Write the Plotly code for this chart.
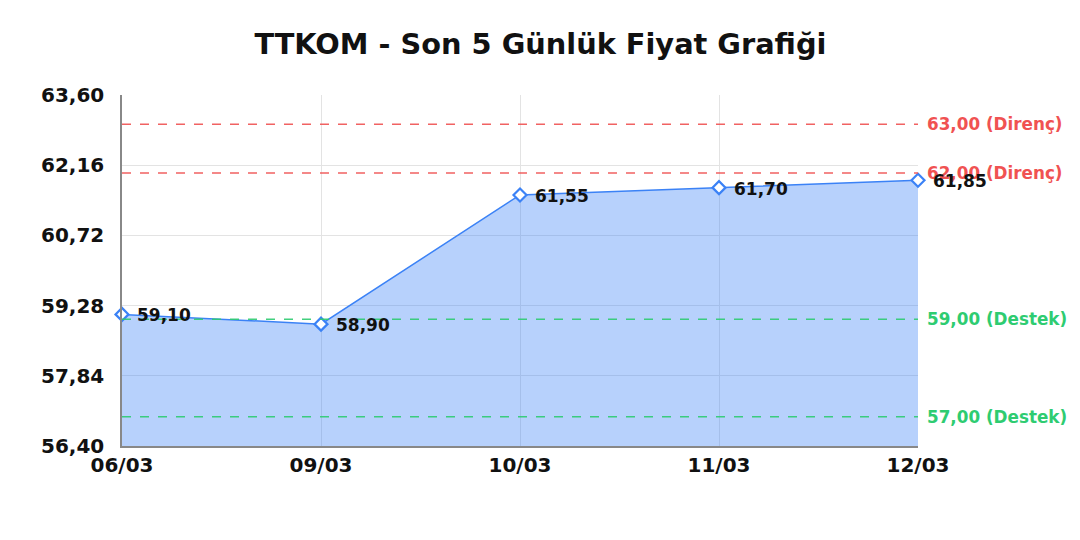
import plotly.graph_objects as go

dates = ["06/03", "09/03", "10/03", "11/03", "12/03"]
prices = [59.10, 58.90, 61.55, 61.70, 61.85]
resistance = [63.00, 62.00]
support = [59.00, 57.00]
y_min, y_max, y_step = 56.40, 63.60, 1.44

FONT = "DejaVu Sans"
RED = "#f05252"
GREEN = "#2ecc71"
BLUE = "#3b82f6"


def tr(v: float) -> str:
    return f"{v:.2f}".replace(".", ",")


fig = go.Figure()

fig.add_trace(go.Scatter(
    x=dates, y=prices,
    mode="lines+markers",
    fill="tozeroy",
    fillcolor="rgba(59,130,246,0.37)",
    line=dict(color=BLUE, width=1.5),
    marker=dict(symbol="diamond", size=10, color="white", line=dict(width=2.2, color=BLUE)),
    cliponaxis=False,
    showlegend=False,
))

# support / resistance lines
for levels, color, name in ((resistance, RED, "Direnç"), (support, GREEN, "Destek")):
    for v in levels:
        fig.add_hline(y=v, line=dict(color=color, width=1.3, dash="dash"), opacity=0.9)
        fig.add_annotation(
            x=1, xref="paper", y=v, yref="y",
            text=f"{tr(v)} ({name})",
            showarrow=False, xanchor="left", xshift=7,
            font=dict(family=FONT, size=16.8, color=color, weight="bold"),
        )

# value labels next to the points (drawn last so they sit on top)
for d, p in zip(dates, prices):
    fig.add_annotation(
        x=d, y=p, text=tr(p),
        showarrow=False, xanchor="left", xshift=13, yshift=-1,
        font=dict(family=FONT, size=17, color="#111111", weight="bold"),
    )

fig.update_layout(
    width=1080, height=540,
    margin=dict(l=114, r=170, t=87, b=102),
    paper_bgcolor="white",
    plot_bgcolor="white",
    separators=",.",
    title=dict(
        text="TTKOM - Son 5 Günlük Fiyat Grafiği",
        x=0.493, xanchor="center", y=0.933, yanchor="middle",
        font=dict(family=FONT, size=28.8, color="#111111", weight="bold"),
    ),
    xaxis=dict(
        type="category",
        range=[0, len(dates) - 1],
        showgrid=True, gridcolor="#e3e3e3",
        showline=True, linecolor="#888888", linewidth=1.5,
        ticks="", ticklen=0,
        tickfont=dict(family=FONT, size=20, color="#111111", weight="bold"),
    ),
    yaxis=dict(
        range=[y_min, y_max],
        tick0=y_min, dtick=y_step,
        tickformat=".2f",
        showgrid=True, gridcolor="#e3e3e3",
        showline=True, linecolor="#888888", linewidth=1.5,
        zeroline=False,
        ticklabelstandoff=12,
        tickfont=dict(family=FONT, size=20, color="#111111", weight="bold"),
    ),
)

fig.write_html("out.html")
